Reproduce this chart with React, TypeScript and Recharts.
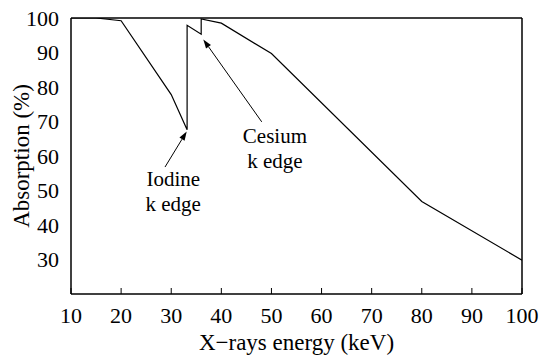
import { LineChart, Line, XAxis, YAxis, ReferenceLine, ReferenceDot, Label } from 'recharts';

const energy = [10, 15, 20, 30, 33.17, 33.17, 35.98, 35.98, 40, 50, 80, 100];
const absorption = [100, 100, 99.2, 77.8, 67.6, 97.9, 95.3, 99.7, 98.5, 89.7, 46.8, 29.8];
const xTicks = [10, 20, 30, 40, 50, 60, 70, 80, 90, 100];
const yTicks = [30, 40, 50, 60, 70, 80, 90, 100];

// annotation arrows: [tail, head] in data units
const iodineArrow = [{ x: 28.76, y: 56.8 }, { x: 33.09, y: 67.1 }];
const cesiumArrow = [{ x: 48.06, y: 69.9 }, { x: 36.4, y: 93.8 }];
const notes = [
  { x: 30.4, y: 51.2, text: 'Iodine' },
  { x: 30.4, y: 44.0, text: 'k edge' },
  { x: 50.7, y: 63.8, text: 'Cesium' },
  { x: 50.7, y: 56.6, text: 'k edge' },
];

const data = energy.map((e, i) => ({ energy: e, absorption: absorption[i] }));

const FONT = 'Liberation Serif, DejaVu Serif, Noto Serif, Tinos, serif';
const tickStyle = { fontFamily: FONT, fontSize: 22, fill: '#000' };

function Arrow(props: any) {
  const { x1, y1, x2, y2 } = props;
  const a = Math.atan2(y2 - y1, x2 - x1);
  const len = 9;
  const w = 3;
  const bx = x2 - len * Math.cos(a);
  const by = y2 - len * Math.sin(a);
  const px = -Math.sin(a) * w;
  const py = Math.cos(a) * w;
  return (
    <g>
      <line x1={x1} y1={y1} x2={bx} y2={by} stroke="#000" strokeWidth={1} />
      <polygon points={`${x2},${y2} ${bx + px},${by + py} ${bx - px},${by - py}`} fill="#000" />
    </g>
  );
}

function noteShape(text: string) {
  return (props: any) => (
    <text x={props.cx} y={props.cy} textAnchor="middle" style={{ fontFamily: FONT, fontSize: 21 }} fill="#000">
      {text}
    </text>
  );
}

export default function App() {
  return (
    <div style={{ position: 'absolute', left: 0, top: 0, fontFamily: FONT }}>
      <LineChart width={539} height={356} data={data} margin={{ top: 17, right: 16, bottom: 0, left: 0 }}>
        <XAxis
          dataKey="energy"
          type="number"
          domain={[10, 100]}
          ticks={xTicks}
          allowDataOverflow
          height={62}
          tickSize={-6}
          tickMargin={19}
          tick={tickStyle}
          stroke="#000"
          axisLine={{ stroke: '#000', strokeWidth: 1.5 }}
        >
          <Label
            value="X−rays energy (keV)"
            position="insideBottom"
            offset={6}
            style={{ fontFamily: FONT, fontSize: 23, fill: '#000' }}
          />
        </XAxis>
        <XAxis
          xAxisId="top"
          orientation="top"
          type="number"
          domain={[10, 100]}
          ticks={xTicks}
          allowDataOverflow
          height={1}
          tickSize={-6}
          tick={false}
          stroke="#000"
          axisLine={{ stroke: '#000', strokeWidth: 1.5 }}
        />
        <YAxis
          type="number"
          domain={[20, 100]}
          ticks={yTicks}
          allowDataOverflow
          width={71}
          tickLine={false}
          tickSize={0}
          tickMargin={12}
          tick={tickStyle}
          stroke="#000"
          axisLine={{ stroke: '#000', strokeWidth: 1.5 }}
        >
          <Label
            content={(p: any) => {
              const vb = p.viewBox;
              const cx = vb.x + 21;
              const cy = vb.y + vb.height / 2;
              return (
                <text
                  x={cx}
                  y={cy}
                  transform={`rotate(-90 ${cx} ${cy})`}
                  textAnchor="middle"
                  dominantBaseline="central"
                  style={{ fontFamily: FONT, fontSize: 23 }}
                  fill="#000"
                >
                  Absorption (%)
                </text>
              );
            }}
          />
        </YAxis>
        <YAxis
          yAxisId="right"
          orientation="right"
          type="number"
          domain={[20, 100]}
          ticks={yTicks}
          allowDataOverflow
          width={1}
          tickSize={-6}
          tick={false}
          stroke="#000"
          axisLine={{ stroke: '#000', strokeWidth: 1.5 }}
        />
        <Line
          type="linear"
          dataKey="absorption"
          stroke="#000"
          strokeWidth={1.2}
          dot={false}
          isAnimationActive={false}
        />
        <ReferenceLine segment={iodineArrow} shape={Arrow} ifOverflow="visible" />
        <ReferenceLine segment={cesiumArrow} shape={Arrow} ifOverflow="visible" />
        {notes.map((n, i) => (
          <ReferenceDot key={i} x={n.x} y={n.y} r={1} shape={noteShape(n.text)} ifOverflow="visible" />
        ))}
      </LineChart>
    </div>
  );
}
